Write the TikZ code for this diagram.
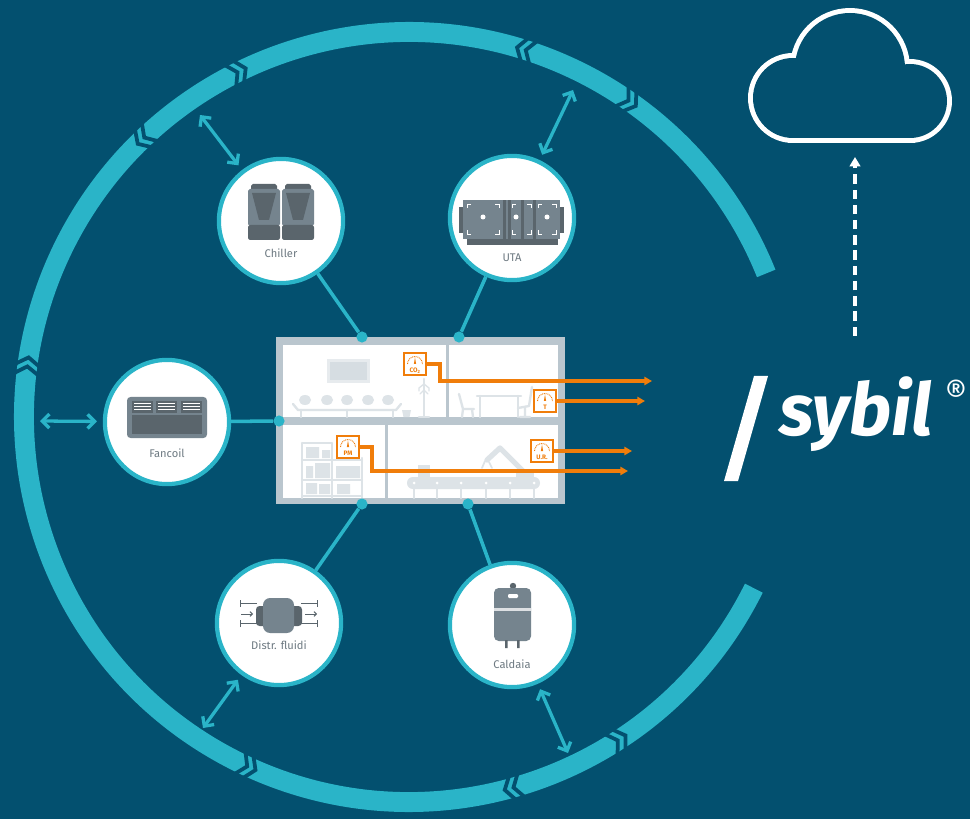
\documentclass[tikz,border=0pt]{standalone}
\usepackage{fontspec}
\setmainfont{Fira Sans}
\usetikzlibrary{arrows.meta, positioning, calc}
\definecolor{deep}{HTML}{03506F}
\definecolor{ringcol}{HTML}{2AB4C8}
\definecolor{wall}{HTML}{BAC6CE}
\definecolor{furncol}{HTML}{DDE3E7}
\definecolor{iconlight}{HTML}{75848E}
\definecolor{icondark}{HTML}{5A656C}
\definecolor{lblgray}{HTML}{6E7A82}
\definecolor{signal}{HTML}{F07D0A}

% chevron notch in the ring: angle, direction (+1 / -1)
\newcommand\ringcut[2]{%
  \foreach \k in {0,1}{%
    \pgfmathsetmacro\ca{#1+#2*1.35*\k}%
    \pgfmathsetmacro\cb{#1+#2*1.35*(\k+1)}%
    \draw[cut] (\ca:399) -- (\cb:385) -- (\ca:371);}}

% orange sensor box with gauge
\newcommand\sensor[4]{%
  \node[sensor] (#1) at (#2,#3) {};
  \draw[signal, line width=0.8pt, dash pattern=on 0.8pt off 0.7pt] ($(#1)+(-7.5,0)$) arc[start angle=180, end angle=360, radius=7.5];
  \fill[signal] ($(#1)+(-1.1,0)$) -- ($(#1)+(0,-6.5)$) -- ($(#1)+(1.1,0)$) -- cycle;
  \node[text=signal, font=\fontsize{5.5}{6}\selectfont\bfseries, inner sep=0pt] at ($(#1)+(0,6.5)$) {#4};}

\begin{document}
\begin{tikzpicture}[x=0.03cm, y=-0.03cm,
    band/.style={ringcol, line width=17pt},
    cut/.style={deep, line width=3.2pt, line join=miter},
    unit/.style={circle, draw=ringcol, line width=3.6pt, fill=white, minimum size=106pt, inner sep=0pt},
    lbl/.style={text=lblgray, font=\fontsize{9.5}{11}\selectfont, inner sep=0pt},
    link/.style={ringcol, line width=3pt},
    dot/.style={circle, fill=ringcol, minimum size=9.5pt, inner sep=0pt},
    dbl/.style={ringcol, line width=2.8pt, {Straight Barb[length=6pt,width=12pt]}-{Straight Barb[length=6pt,width=12pt]}, shorten >=5pt},
    furn/.style={draw=furncol, line width=2pt, line cap=round, line join=round},
    sensor/.style={draw=signal, line width=1.7pt, fill=white, minimum size=18pt, inner sep=0pt},
    sigline/.style={signal, line width=2.6pt, -{Triangle[length=6.5pt,width=7pt]}},
    upflow/.style={white, line width=2.6pt, dash pattern=on 8pt off 5pt, -{Triangle[length=8pt,width=9pt]}},
    logo/.style={text=white, font=\fontsize{62}{62}\selectfont\bfseries\itshape, inner sep=0pt}
  ]
  \fill[deep] (0,0) rectangle (970,819);
  \useasboundingbox (0,0) rectangle (970,819);

  % ring
  \begin{scope}[shift={(409,417)}]
    \draw[band] (26.4:385) arc[start angle=26.4, end angle=338.1, radius=385];
    \ringcut{227.9}{-1}
    \ringcut{242.2}{1}
    \ringcut{289}{-1}
    \ringcut{303.4}{1}
    \ringcut{186.2}{1}
    \ringcut{116.2}{-1}
    \ringcut{72.9}{1}
    \ringcut{58.5}{-1}
  \end{scope}

  % plant units
  \node[unit] (chiller) at (281,221) {};
  \node[unit] (uta) at (512,218) {};
  \node[unit] (fancoil) at (167,422) {};
  \node[unit] (distr) at (279,623) {};
  \node[unit] (caldaia) at (512,625) {};
  \node[lbl] (chillerlbl) at (281,253) {Chiller};
  \node[lbl] (utalbl) at (512,258) {UTA};
  \node[lbl] (fancoillbl) at (167,453) {Fancoil};
  \node[lbl] (distrlbl) at (279,645) {Distr. fluidi};
  \node[lbl] (caldaialbl) at (512,664) {Caldaia};

  % chiller icon
  \foreach \x in {248,282}{
    \fill[icondark, rounded corners=1.5pt] ({\x+3},184) rectangle ({\x+29},193);
    \fill[iconlight, rounded corners=1.5pt] (\x,189) rectangle ({\x+32},226);
    \fill[icondark] ({\x+4},193) -- ({\x+28},193) -- ({\x+21},220) -- ({\x+11},220) -- cycle;
    \fill[icondark, rounded corners=2pt] (\x,225) rectangle ({\x+32},240);
  }

  % uta icon
  \fill[icondark] (459,207) rectangle (564,233);
  \fill[icondark] (467,238) rectangle (558,245);
  \fill[iconlight] (463,200) rectangle (560,239);
  \foreach \x in {503,508,521,533}
    \fill[icondark] (\x,200) rectangle ({\x+2.5},239);
  \foreach \x in {483,516,547}
    \fill[white] (\x,217) circle[radius=2.5];
  \foreach \xa/\xb in {467/499, 512/531, 538/556}
    \draw[white, line width=0.6pt] (\xa,208) -- (\xa,204) -- ({\xa+4},204)
      ({\xb-4},204) -- (\xb,204) -- (\xb,208)
      (\xa,230) -- (\xa,234) -- ({\xa+4},234)
      ({\xb-4},234) -- (\xb,234) -- (\xb,230);

  % fancoil icon
  \fill[iconlight, rounded corners=3pt] (127,397) rectangle (207,438);
  \foreach \x in {132,156,181}{
    \fill[icondark] (\x,401) rectangle ({\x+21},413);
    \draw[white, line width=0.6pt] ({\x+2},403.5) -- ({\x+19},403.5)
      ({\x+2},406.5) -- ({\x+19},406.5) ({\x+2},409.5) -- ({\x+19},409.5);
  }
  \fill[icondark] (132,415) rectangle (202,434);

  % distribution icon
  \draw[icondark, line width=0.7pt] (240,600) -- (240,607) (240,603) -- (257,603)
    (240,627) -- (240,620) (240,623) -- (257,623)
    (317,600) -- (317,607) (317,603) -- (301,603)
    (317,627) -- (317,620) (317,623) -- (301,623);
  \draw[icondark, line width=0.8pt, -{Straight Barb[length=2pt,width=4pt]}] (241,614) -- (253,614);
  \draw[icondark, line width=0.8pt, -{Straight Barb[length=2pt,width=4pt]}] (305,614) -- (317,614);
  \fill[icondark, rounded corners=3pt] (256,606) rectangle (302,626);
  \fill[iconlight, rounded corners=6pt] (263,598) rectangle (294,633);

  % boiler icon
  \fill[icondark] (513,586) circle[radius=3.2];
  \fill[icondark] (511,586) rectangle (515,590);
  \fill[iconlight, rounded corners=4pt] (494,588) rectangle (531,641);
  \fill[white, rounded corners=1pt] (508,594) rectangle (518,598);
  \fill[white!75!iconlight] (494,608) rectangle (531,611);
  \fill[icondark] (505,640) rectangle (507.5,648) (517,640) rectangle (519.5,648);

  % building
  \fill[wall] (276,337) rectangle (565,504);
  \fill[white] (283,345) rectangle (446,417);
  \fill[white] (449,345) rectangle (558,417);
  \fill[white] (283,425) rectangle (385,498);
  \fill[white] (388,425) rectangle (558,498);

  % meeting room
  \fill[furncol!70] (327,359) rectangle (370,383);
  \fill[furncol!120] (330,362) rectangle (367,380);
  \foreach \x in {305,327,347,368,388}
    \fill[furncol] (\x,400) ellipse[x radius=6, y radius=5];
  \draw[furn] (293,404) -- (298,410) -- (396,410) -- (401,404);
  \draw[furn] (301,410) -- (301,417) (347,410) -- (347,417) (393,410) -- (393,417);
  \draw[furn] (424,379) -- (424,416) (419,417) -- (429,417);
  \draw[furn, line width=1.1pt] (424,384) -- (419,388) -- (419,391) (424,384) -- (429,388) -- (429,391)
    (424,390) -- (420,394) (424,390) -- (428,394);
  \fill[furncol] (402,410) -- (411,410) -- (409.5,417) -- (403.5,417) -- cycle;

  % office
  \draw[furn] (477,396) -- (521,396) (480,396) -- (480,417) (518,396) -- (518,417);
  \draw[furn] (459,394) -- (463,409) -- (474,409) (463,409) -- (462,417) (472,409) -- (473,417);
  \draw[furn] (532,387) -- (529,406) -- (518,408) (525,408) -- (525,416) (520,417) -- (530,417);

  % storage
  \draw[furn] (302,443) -- (302,498) (332,443) -- (332,498) (362,458) -- (362,498)
    (302,443) -- (332,443) (302,460) -- (362,460) (302,480) -- (362,480) (302,496) -- (362,496);
  \fill[furncol] (306,447) rectangle (319,458) (322,450) rectangle (330,458)
    (306,466) rectangle (313,478) (315,463) rectangle (330,478) (336,466) rectangle (360,478)
    (306,483) rectangle (317,494) (319,484) rectangle (330,494) (337,484) rectangle (350,494);

  % production line
  \fill[furncol, rounded corners=5pt] (407,477) rectangle (540,489);
  \foreach \x in {414,437,461,486,510,534}{
    \fill[white] (\x,483) circle[radius=1.5];
    \draw[furn] (\x,489) -- (\x,498);
  }
  \fill[furncol] (418,465) rectangle (430,477);
  \fill[furncol] (516,471) rectangle (534,477);
  \draw[furncol, line width=4.5pt, line cap=round, line join=round] (524,472) -- (500,448) -- (487,460);
  \draw[furn, line width=1.5pt] (485,461) -- (482,468) (489,462) -- (492,468);

  % connection points
  \node[dot] (d1) at (362,337) {};
  \node[dot] (d2) at (459,337) {};
  \node[dot] (d3) at (279,421) {};
  \node[dot] (d4) at (362,504) {};
  \node[dot] (d5) at (468,504) {};
  \draw[link] (chiller) -- (d1);
  \draw[link] (uta) -- (d2);
  \draw[link] (fancoil) -- (d3);
  \draw[link] (distr) -- (d4);
  \draw[link] (caldaia) -- (d5);

  % ring exchanges
  \coordinate (a1) at (200,115);
  \coordinate (a2) at (573,90);
  \coordinate (a3) at (40,421);
  \coordinate (a4) at (203,728);
  \coordinate (a5) at (568,753);
  \draw[dbl] (a1) -- (chiller);
  \draw[dbl] (a2) -- (uta);
  \draw[dbl] (a3) -- (fancoil);
  \draw[dbl] (a4) -- (distr);
  \draw[dbl] (a5) -- (caldaia);

  % sensors
  \sensor{co2}{415}{364}{CO\textsubscript{2}}
  \sensor{tsens}{545}{401}{T}
  \sensor{pm}{348}{447}{PM}
  \sensor{ur}{542}{451}{U.R.}
  \coordinate (co2tip) at (652,381);
  \coordinate (ttip) at (645,401);
  \coordinate (urtip) at (632,451);
  \coordinate (pmtip) at (628,471);
  \draw[sigline] (co2.east) -| (440,381) -- (co2tip);
  \draw[sigline] (tsens.east) -- (ttip);
  \draw[sigline] (ur.east) -- (urtip);
  \draw[sigline] (pm.east) -| (372,471) -- (pmtip);

  % cloud
  \draw[white, line width=8.5pt] (793,98) circle[radius=40] (850,68) circle[radius=55]
    (910,101) circle[radius=37] (793,98) rectangle (910,138);
  \fill[deep] (793,98) circle[radius=40];
  \fill[deep] (850,68) circle[radius=55];
  \fill[deep] (910,101) circle[radius=37];
  \fill[deep] (793,98) rectangle (910,138);
  \coordinate (up0) at (855,336);
  \coordinate (up1) at (855,157);
  \draw[upflow] (up0) -- (up1);

  % logo
  \fill[white] (724,481) -- (738,481) -- (768,376) -- (754,376) -- cycle;
  \node[logo, anchor=base west] (sybil) at (779,435) {sybil};
  \node[text=white, font=\fontsize{29}{29}\selectfont, inner sep=0pt] (reg) at (956,393) {\textregistered};
\end{tikzpicture}
\end{document}
